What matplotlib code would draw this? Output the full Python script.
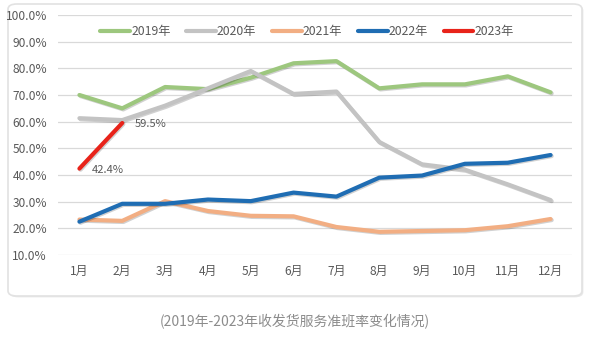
import matplotlib
matplotlib.use("Agg")
import matplotlib.pyplot as plt
from matplotlib.patches import FancyBboxPatch
import matplotlib.patheffects as pe

plt.rcParams['font.family'] = ['Noto Sans CJK SC', 'DejaVu Sans']

months = ["1月", "2月", "3月", "4月", "5月", "6月", "7月", "8月", "9月", "10月", "11月", "12月"]
y2019 = [70.0, 65.0, 73.0, 72.2, 76.5, 81.9, 82.7, 72.5, 74.0, 74.0, 77.0, 71.0]
y2020 = [61.3, 60.6, 66.0, 72.5, 79.0, 70.4, 71.3, 52.4, 44.0, 42.0, 36.5, 30.6]
y2021 = [23.3, 22.8, 30.2, 26.5, 24.7, 24.5, 20.5, 18.7, 19.0, 19.3, 20.8, 23.5]
y2022 = [22.5, 29.2, 29.2, 30.8, 30.2, 33.4, 31.9, 39.0, 39.8, 44.2, 44.6, 47.5]
y2023 = [42.4, 59.5]
series_names = ["2019年", "2020年", "2021年", "2022年", "2023年"]
colors = ["#9DC77E", "#C3C3C3", "#F2AE83", "#1F6DB3", "#E8231A"]
yticks = [10, 20, 30, 40, 50, 60, 70, 80, 90, 100]
caption = "(2019年-2023年收发货服务准班率变化情况)"

W, H = 595, 343
fig = plt.figure(figsize=(W / 100, H / 100), dpi=100)
fig.patch.set_facecolor("white")

# panel with rounded border
panel = FancyBboxPatch((8 / W, 1 - 296 / H), (582 - 8) / W, (296 - 4) / H,
                       boxstyle="round,pad=0,rounding_size=0.015",
                       transform=fig.transFigure, facecolor="white",
                       edgecolor="#E2E2E2", linewidth=1.2, zorder=-5,
                       path_effects=[pe.SimplePatchShadow(offset=(1, -1), alpha=0.12), pe.Normal()])
fig.patches.append(panel)

ax = fig.add_axes([58 / W, 1 - 255 / H, (572 - 58) / W, (255 - 15) / H])
ax.set_facecolor("none")
ax.set_zorder(2)
x = list(range(len(months)))

shadow = [pe.SimpleLineShadow(offset=(0.8, -0.8), alpha=0.18, shadow_color="black"), pe.Normal()]
data = [y2019, y2020, y2021, y2022, y2023]
for name, vals, c in zip(series_names, data, colors):
    ax.plot(x[:len(vals)], vals, color=c, lw=3.0, label=name,
            solid_capstyle="round", solid_joinstyle="round", path_effects=shadow)

ax.annotate(f"{y2023[0]:.1f}%", (0, y2023[0]), xytext=(9, -1), textcoords="offset points",
            fontsize=8, color="#595959", va="center", ha="left")
ax.annotate(f"{y2023[1]:.1f}%", (1, y2023[1]), xytext=(9, -1), textcoords="offset points",
            fontsize=8, color="#595959", va="center", ha="left")

ax.set_xlim(-0.5, 11.5)
ax.set_ylim(10, 100)
ax.set_yticks(yticks)
ax.set_yticklabels([f"{v:.1f}%" for v in yticks])
ax.set_xticks(x)
ax.set_xticklabels(months)
ax.grid(axis="y", color="#D9D9D9", lw=0.9)
ax.set_axisbelow(True)
for s in ax.spines.values():
    s.set_visible(False)
ax.tick_params(axis="both", length=0, labelsize=8.6, colors="#595959")
ax.tick_params(axis="y", pad=8)
ax.tick_params(axis="x", pad=7)

leg = ax.legend(loc="upper center", bbox_to_anchor=(0.485, 1.005), ncol=5, frameon=False,
                fontsize=8.8, handlelength=2.4, handletextpad=0.1, columnspacing=1.3,
                labelcolor="#595959")
for h in leg.get_lines():
    h.set_path_effects([])

fig.text(295 / W, 1 - 322 / H, caption, ha="center", va="center", fontsize=10,
         color="#8C8C8C")

fig.savefig("out.png", dpi=100)
